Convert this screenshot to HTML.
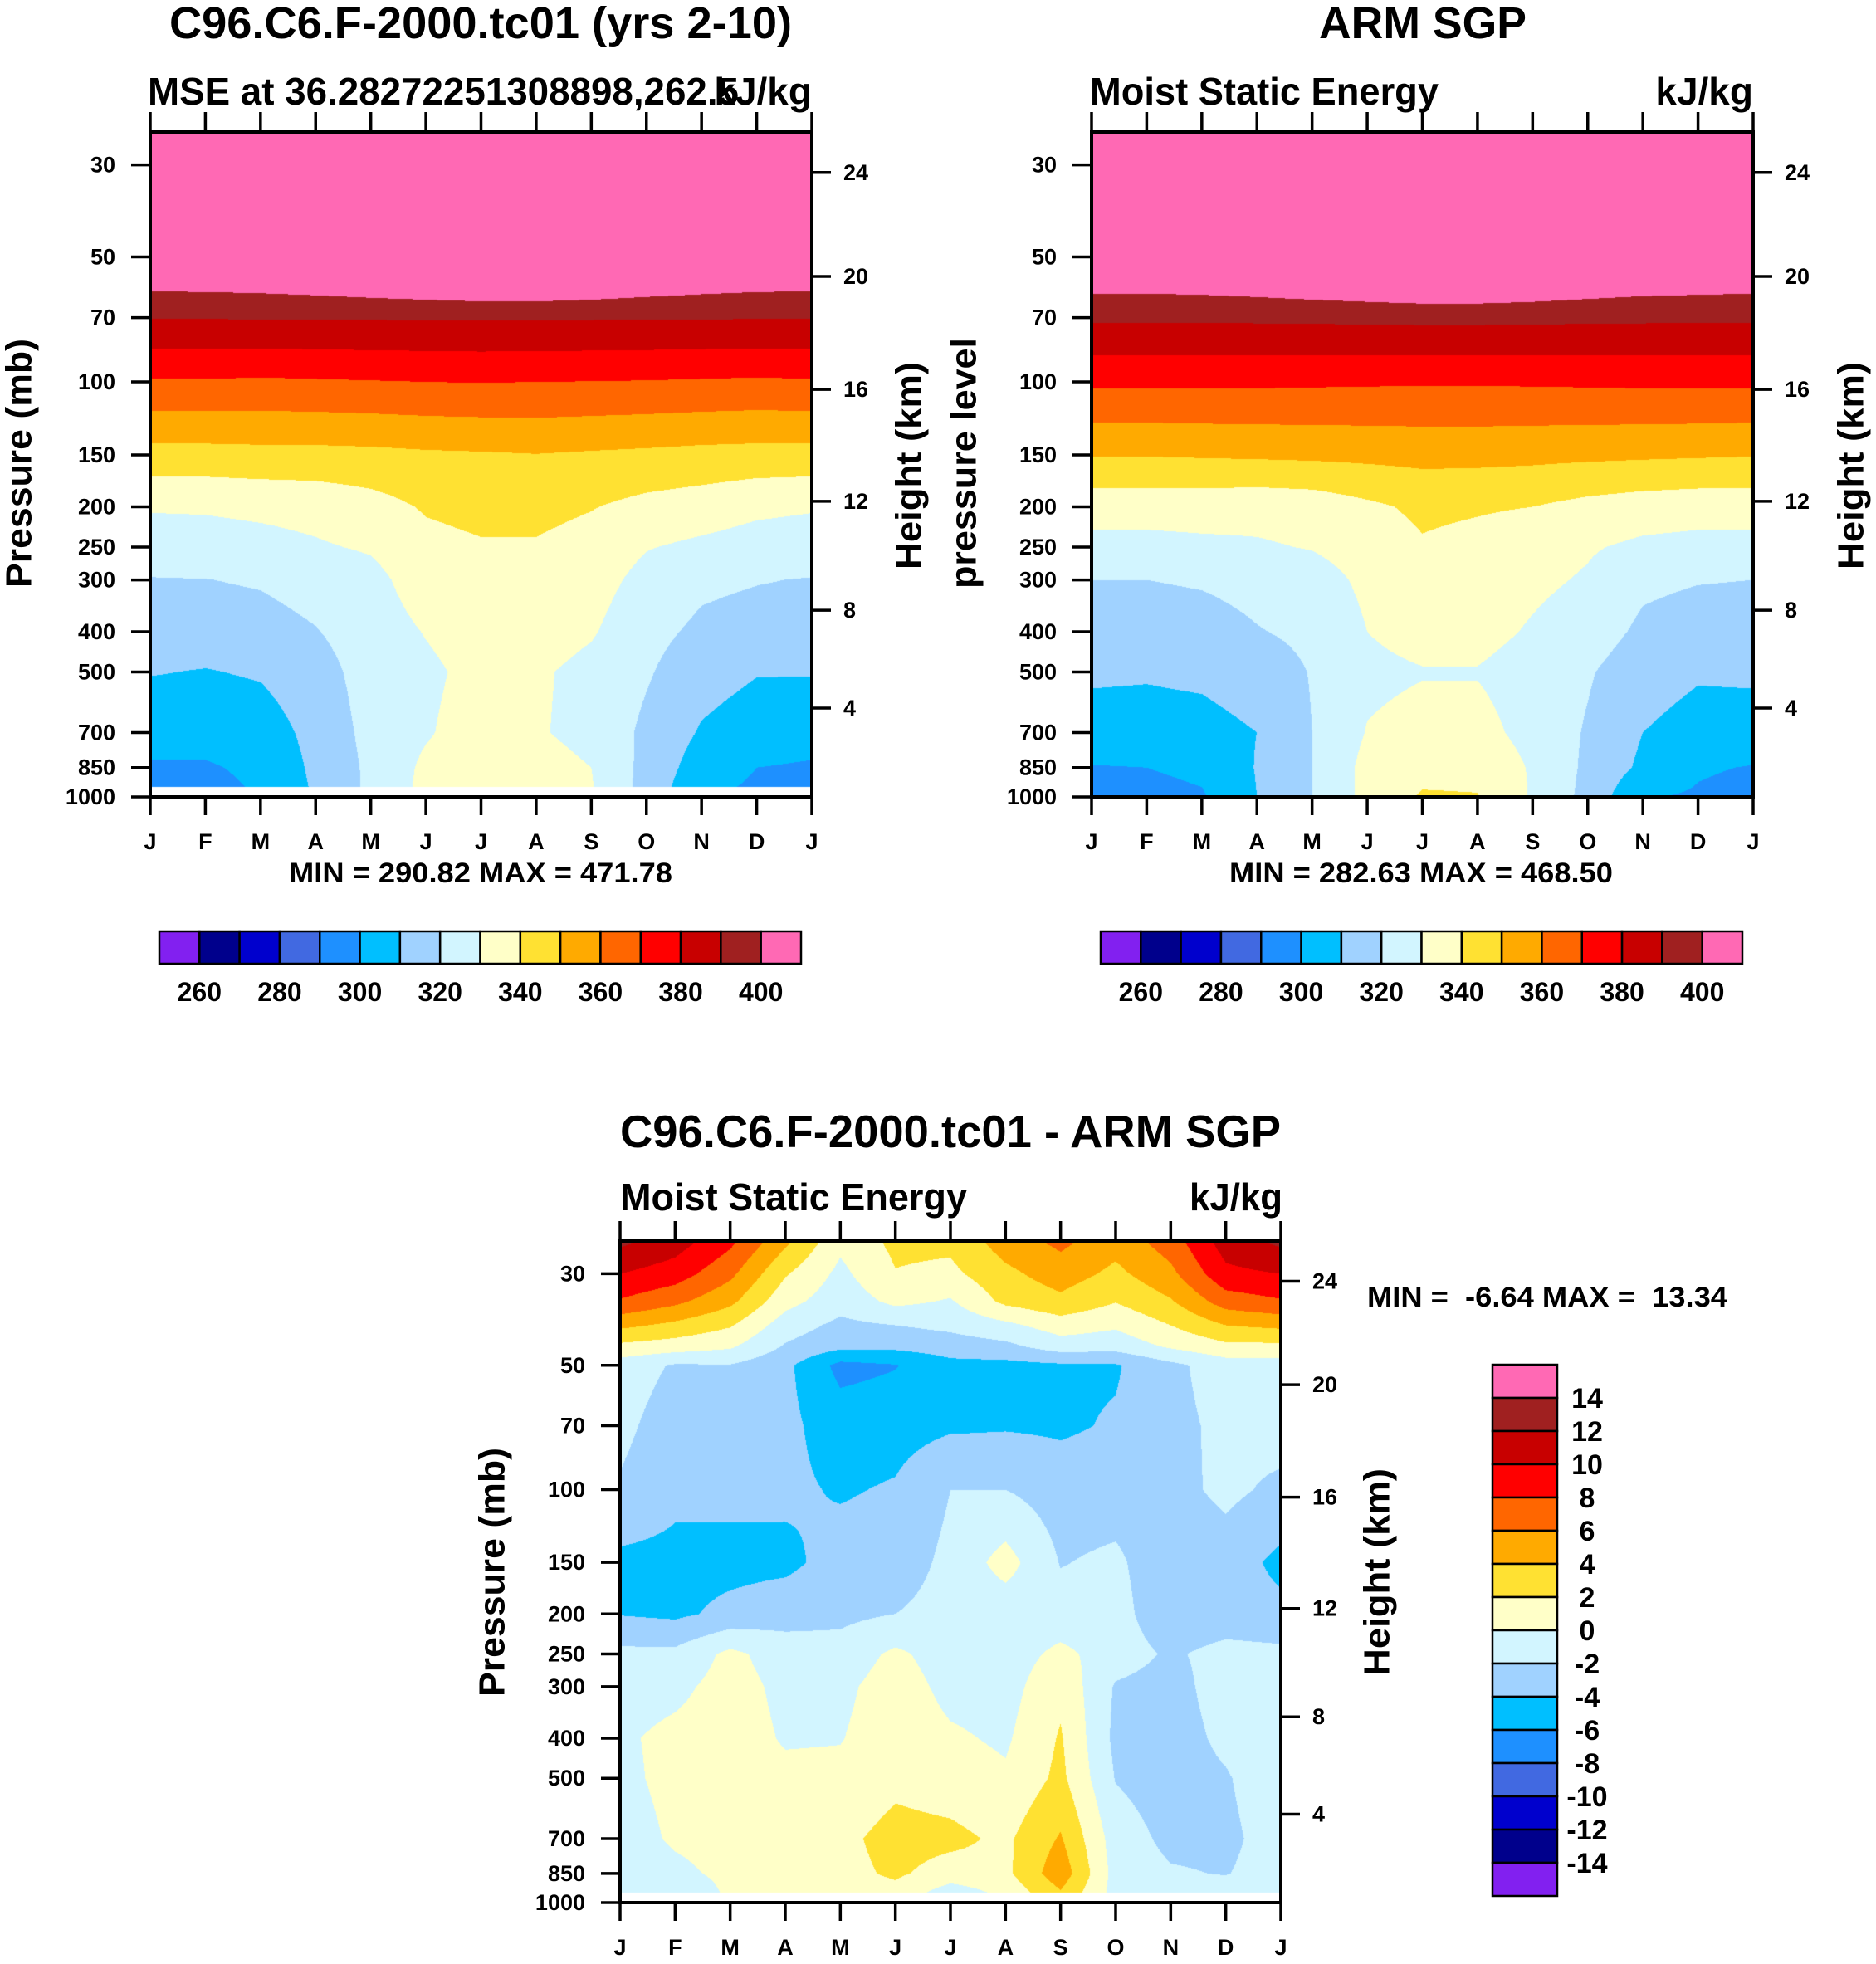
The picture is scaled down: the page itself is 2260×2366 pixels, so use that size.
<!DOCTYPE html>
<html><head><meta charset="utf-8">
<style>
html,body{margin:0;padding:0;background:#fff;}
body{width:2260px;height:2366px;position:relative;overflow:hidden;font-family:"Liberation Sans",sans-serif;}
canvas{position:absolute;}
#ov{position:absolute;left:0;top:0;}
text{font-family:"Liberation Sans",sans-serif;font-weight:bold;fill:#000;white-space:pre;}
</style></head>
<body>
<canvas id="c1"></canvas>
<canvas id="c2"></canvas>
<canvas id="c3"></canvas>
<svg id="ov" width="2260" height="2366" xmlns="http://www.w3.org/2000/svg"></svg>
<script>
const months = ['J','F','M','A','M','J','J','A','S','O','N','D','J'];
const pressureTicks = [30,50,70,100,150,200,250,300,400,500,700,850,1000];
const heightTicks = [4,8,12,16,20,24];
const heightTickPressure = [611,355,194,104.3,55.7,31.3];
const mseLevels = [260,270,280,290,300,310,320,330,340,350,360,370,380,390,400];
const mseLabels = [260,280,300,320,340,360,380,400];
const diffLevels = [-14,-12,-10,-8,-6,-4,-2,0,2,4,6,8,10,12,14];
const diffLabels = [14,12,10,8,6,4,2,0,-2,-4,-6,-8,-10,-12,-14];
const palette = ['#8220f0','#00008c','#0000cd','#4169e1','#1e90ff','#00bfff','#a0d2ff','#d2f5ff','#ffffc8','#ffe132','#ffaa00','#ff6600','#ff0000','#c80000','#a02020','#ff69b4'];

const modelP = [25,30,50,70,100,150,200,250,300,400,500,700,850,1000];
const model_25 = [480,480,480,480,481,482,483,483,482,481,480,480,480];
const model_30 = [465,465,465,466,467,468,469,469,468,467,466,465,465];
const model_50 = [412.5,413,414,416,419,422,425,425,422,418,415,413,412.5];
const model_70 = [390.5,390.5,390.6,390.7,390.8,390.8,390.9,390.9,390.8,390.7,390.6,390.5,390.5];
const model_100 = [369,369,368.5,369,369.5,370,370.3,370,369.8,369.5,369,368.5,369];
const model_150 = [346.5,346.5,347,347,347.5,348.5,349,349.7,348.8,348,347,346.5,346.5];
const model_200 = [330.8,331,332,333,336,341,343,343,340.5,337,335,332,330.8];
const model_250 = [325.5,326,327,329,331,337,339,339,336,330.5,328,326,325.5];
const model_300 = [319.5,319.8,321,324,327,335,337,337,334,327,322,320.5,319.5];
const model_400 = [315,315,316,319.5,325,330.5,335,335,331,323,318,316,315];
const model_500 = [310.5,309.5,311,316,324,328,333,331.5,327,321,314,310.5,310.5];
const model_700 = [303.5,303.5,305,313,323,329,335,331,327,318,309,305,303.5];
const model_850 = [299,299,302,312,322,332,336,334,330,317,305,300,299];
const model_1000 = [296,296.5,300.5,311,322,333,337,336,331,316,301,298,296];

const armP = [25,30,50,70,100,150,200,250,300,400,500,700,850,1000];
const arm_25 = [478,478,478,479,480,481,482,482,481,480,479,478,478];
const arm_30 = [463,463,463,464,465,466,467,467,466,465,464,463,463];
const arm_50 = [413,413,414,416,419,422,425,425,422,418,415,414,413];
const arm_70 = [391.5,391.5,391.6,391.8,392,392.3,392.5,392.5,392.3,392,391.8,391.6,391.5];
const arm_100 = [372,372,372,371.8,371.5,371.2,371,371,371.2,371.5,371.8,372,372];
const arm_150 = [350.5,350.5,351,351.5,352,352.5,353,353,352.5,352,351.5,351,350.5];
const arm_200 = [334,334,334,333,334,338,342,341,340,337,335,334,334];
const arm_250 = [327,327,328,329,330.5,334,339,337,334,331,328,327,327];
const arm_300 = [320,320,321,323,326,332,336,335,332,329,322,320.5,320];
const arm_400 = [315,315,316,319.5,322,330,333,333,329,325,318,315.5,315];
const arm_500 = [311.5,311,312,315,320.5,328,329.5,329.5,326,321,314,311,311.5];
const arm_700 = [306,306,306.5,310,320,330.5,333,333,327,319,310,306.5,306];
const arm_850 = [299.5,300,302,310.5,320,333,337,337,329,318,308,301,299.5];
const arm_1000 = [297,297,299,310,320,333,341,340.5,329,317,300.5,299,297];

const diffP = [25,30,35,40,45,50,70,100,150,200,250,300,400,500,700,850,1000];
const diff_25 = [12.5,11,8.5,4.5,0.5,2.5,2.5,5,6.5,4.8,7,11,12.5];
const diff_30 = [10,9,6.5,2.2,-0.5,1.9,1.5,3.5,5,3.5,5.5,9.5,10];
const diff_35 = [7.8,6.5,4.5,0.7,-1.2,0.5,-0.2,2.5,3.5,2.1,3.8,7,7.8];
const diff_40 = [4.5,3.5,2.2,-1,-2.5,-2,-1.5,-0.5,1,0.3,2,4,4.5];
const diff_45 = [1.5,1,0.3,-2.2,-3.5,-3.5,-3,-2.5,-1,-1.2,0.3,1.5,1.5];
const diff_50 = [-1,-2.2,-2.1,-3.5,-6.6,-6.1,-4.6,-4.6,-4.3,-4.2,-2.5,-1,-1];
const diff_70 = [-1.5,-3,-3,-3.5,-5,-4.8,-4.3,-4.2,-4.3,-3.8,-2.6,-1.5,-1];
const diff_100 = [-2.2,-3.5,-3.5,-3.6,-4.2,-3.8,-2,-2,-3,-3,-2.7,-1.5,-2.5];
const diff_150 = [-4.5,-4.6,-4.6,-4.5,-3.2,-3,-1.5,0.8,-2.1,-1.6,-3.5,-3,-4.5];
const diff_200 = [-4.1,-4.4,-3.5,-2.8,-2.5,-2,-1.3,-1.2,-1.2,-1.2,-3.5,-3.2,-3.5];
const diff_250 = [-1.5,-1.5,0.5,-1,-1.2,0.4,-1,-1,0.5,-1,-2.3,-1.3,-1.5];
const diff_300 = [-0.8,-0.5,0.8,-0.5,-0.5,1,-0.6,-0.8,1.5,-2.2,-2.8,-1,-0.8];
const diff_400 = [-0.3,0.5,1,-0.2,-0.1,1.2,0.3,-0.3,2.2,-2.5,-3,-1.5,-0.3];
const diff_500 = [-0.5,0.6,1,0.5,0.5,1.5,1,0.3,2.5,-2.1,-3,-2.2,-0.5];
const diff_700 = [-1,0.3,0.8,1,1.5,2.7,2.5,1.6,4.2,-1,-2.5,-2.5,-1];
const diff_850 = [-1.2,-0.5,0.5,1,1.4,2.3,1.2,1.5,5.3,-0.8,-1.8,-2.1,-1];
const diff_1000 = [-1.5,-2.2,0.3,0.5,1,1,-2.3,0,3,-0.8,-0.8,-0.5,-1.5];

const modelGrid = [model_25,model_30,model_50,model_70,model_100,model_150,model_200,model_250,model_300,model_400,model_500,model_700,model_850,model_1000];
const armGrid = [arm_25,arm_30,arm_50,arm_70,arm_100,arm_150,arm_200,arm_250,arm_300,arm_400,arm_500,arm_700,arm_850,arm_1000];
const diffGrid = [diff_25,diff_30,diff_35,diff_40,diff_45,diff_50,diff_70,diff_100,diff_150,diff_200,diff_250,diff_300,diff_400,diff_500,diff_700,diff_850,diff_1000];

const PTOP = 25, PBOT = 1000;
function yScale(p, f){ return f.y0 + (Math.log(p)-Math.log(PTOP))/(Math.log(PBOT)-Math.log(PTOP))*(f.y1-f.y0); }
function xScale(m, f){ return f.x0 + m/12*(f.x1-f.x0); }
function hexRGB(h){ return [parseInt(h.substr(1,2),16),parseInt(h.substr(3,2),16),parseInt(h.substr(5,2),16)]; }
const palRGB = palette.map(hexRGB);

function drawField(id, f, P, grid, levels, cutoff){
  const cv = document.getElementById(id);
  const W = f.x1-f.x0, H = f.y1-f.y0;
  cv.width = W; cv.height = H; cv.style.left = f.x0+'px'; cv.style.top = f.y0+'px';
  const ctx = cv.getContext('2d');
  const img = ctx.createImageData(W,H);
  const lP = P.map(Math.log);
  for(let r=0;r<H;r++){
    const lp = Math.log(PTOP) + (r+0.5)/H*(Math.log(PBOT)-Math.log(PTOP));
    const white = cutoff && Math.exp(lp) > cutoff;
    let i=0; while(i<lP.length-2 && lp>lP[i+1]) i++;
    let t=(lp-lP[i])/(lP[i+1]-lP[i]); t=Math.max(0,Math.min(1,t));
    for(let c=0;c<W;c++){
      const k=(r*W+c)*4;
      if(white){img.data[k]=255;img.data[k+1]=255;img.data[k+2]=255;img.data[k+3]=255;continue;}
      const m=(c+0.5)/W*12; let j=Math.min(11,Math.floor(m)); const s=m-j;
      const a=grid[i][j]*(1-s)+grid[i][j+1]*s, b=grid[i+1][j]*(1-s)+grid[i+1][j+1]*s;
      const v=a*(1-t)+b*t;
      let idx=0; while(idx<levels.length && v>=levels[idx]) idx++;
      const col=palRGB[idx];
      img.data[k]=col[0];img.data[k+1]=col[1];img.data[k+2]=col[2];img.data[k+3]=255;
    }
  }
  ctx.putImageData(img,0,0);
}

const svg = document.getElementById('ov');
const NS = 'http://www.w3.org/2000/svg';
function mk(tag, attrs){ const e=document.createElementNS(NS,tag); for(const k in attrs) e.setAttribute(k,attrs[k]); svg.appendChild(e); return e; }
function txt(s, x, y, size, anchor, extra){
  const e = mk('text', Object.assign({x:x,y:y,'font-size':size,'text-anchor':anchor||'start'}, extra||{}));
  e.textContent = s; return e;
}
function line(x1,y1,x2,y2,w){ return mk('line',{x1:x1,y1:y1,x2:x2,y2:y2,stroke:'#000','stroke-width':w||3.5}); }

function axes(f, prefix, labelSize){
  const fr = mk('rect',{x:f.x0,y:f.y0,width:f.x1-f.x0,height:f.y1-f.y0,fill:'none',stroke:'#000','stroke-width':4});
  
  
  months.forEach((m,i)=>{
    const x = xScale(i,f);
    const t1 = line(x,f.y0,x,f.y0-24);
    
    
    const t2 = line(x,f.y1,x,f.y1+22);
    
    
    const l = txt(m, x, f.y1+63, labelSize, 'middle');
    
    
  });
  pressureTicks.forEach(p=>{
    const y = yScale(p,f);
    const t = line(f.x0-23,y,f.x0,y);
    
    
    const l = txt(String(p), f.x0-42, y+9, labelSize, 'end');
    
    
  });
  heightTicks.forEach((h,i)=>{
    const y = yScale(heightTickPressure[i],f);
    const t = line(f.x1,y,f.x1+23,y);
    
    
    const l = txt(String(h), f.x1+38, y+9, labelSize, 'start');
    
    
  });
}
function rotLabel(s, cx, cy, size, len, name){
  const e = txt(s, 0, 0, size, 'middle', {transform:'translate('+cx+','+cy+') rotate(-90)', textLength:len, lengthAdjust:'spacingAndGlyphs', dy:'0.35em'});
  
  
}
function hColorbar(x0, y0, w, h, prefix){
  const bw = w/16;
  palette.forEach((c,i)=>{
    const r = mk('rect',{x:x0+i*bw,y:y0,width:bw,height:h,fill:c,stroke:'#000','stroke-width':2.5});
    
    
  });
  mseLabels.forEach(v=>{
    const i = mseLevels.indexOf(v)+1;
    const l = txt(String(v), x0+i*bw, y0+h+45, 32, 'middle');
    
    
  });
}

const f1 = {x0:181,x1:978,y0:159,y1:960};
const f2 = {x0:1315,x1:2112,y0:159,y1:960};
const f3 = {x0:747,x1:1543,y0:1495,y1:2292};
drawField('c1', f1, modelP, modelGrid, mseLevels, 946);
drawField('c2', f2, armP, armGrid, mseLevels, 0);
drawField('c3', f3, diffP, diffGrid, diffLevels, 946);

axes(f1,'model',27);
let e;
e = txt('C96.C6.F-2000.tc01 (yrs 2-10)', 579, 46, 54, 'middle', {textLength:750, lengthAdjust:'spacingAndGlyphs'});


e = txt('MSE at 36.28272251308898,262.5', 178, 126, 46, 'start', {textLength:712, lengthAdjust:'spacingAndGlyphs'});


e = txt('kJ/kg', 978, 126, 46, 'end');


rotLabel('Pressure (mb)', 22, 558, 44, 300, 'model-y-axis-title');
rotLabel('Height (km)', 1094, 561, 44, 250, 'model-right-axis-title');
e = txt('MIN = 290.82 MAX = 471.78', 579, 1063, 34, 'middle', {textLength:462, lengthAdjust:'spacingAndGlyphs'});


hColorbar(192,1122,773,39,'model');

axes(f2,'arm',27);
e = txt('ARM SGP', 1714, 46, 54, 'middle', {textLength:250, lengthAdjust:'spacingAndGlyphs'});


e = txt('Moist Static Energy', 1313, 126, 46, 'start', {textLength:420, lengthAdjust:'spacingAndGlyphs'});


e = txt('kJ/kg', 2112, 126, 46, 'end');


rotLabel('pressure level', 1160, 558, 44, 302, 'arm-y-axis-title');
rotLabel('Height (km)', 2229, 561, 44, 250, 'arm-right-axis-title');
e = txt('MIN = 282.63 MAX = 468.50', 1712, 1063, 34, 'middle', {textLength:462, lengthAdjust:'spacingAndGlyphs'});


hColorbar(1326,1122,773,39,'arm');

axes(f3,'diff',27);
e = txt('C96.C6.F-2000.tc01 - ARM SGP', 1145, 1382, 55, 'middle', {textLength:796, lengthAdjust:'spacingAndGlyphs'});


e = txt('Moist Static Energy', 747, 1458, 46, 'start', {textLength:418, lengthAdjust:'spacingAndGlyphs'});


e = txt('kJ/kg', 1545, 1458, 46, 'end', {textLength:112, lengthAdjust:'spacingAndGlyphs'});


rotLabel('Pressure (mb)', 592, 1894, 44, 300, 'diff-y-axis-title');
rotLabel('Height (km)', 1658, 1894, 44, 250, 'diff-right-axis-title');
e = txt('MIN =  -6.64 MAX =  13.34', 1647, 1574, 34, 'start', {textLength:434, lengthAdjust:'spacingAndGlyphs'});


const vbx = 1798, vby = 1644, vbw = 78, vbh = 40;
palette.slice().reverse().forEach((c,i)=>{
  const r = mk('rect',{x:vbx,y:vby+i*vbh,width:vbw,height:vbh,fill:c,stroke:'#000','stroke-width':2.5});
  
  
});
diffLabels.forEach((v,i)=>{
  const l = txt(String(v), 1912, vby+(i+1)*vbh+12, 34, 'middle');
  
  
});
</script>
</body></html>
